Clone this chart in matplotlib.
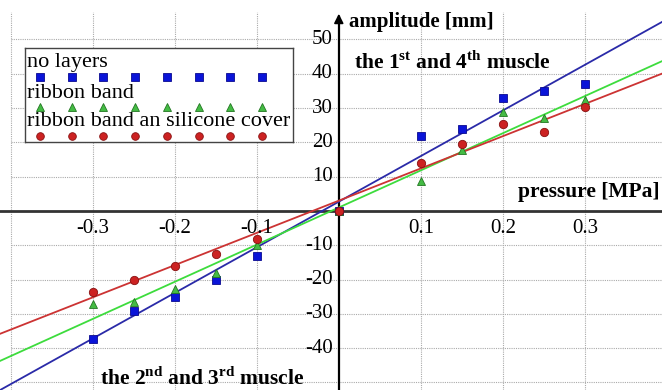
import matplotlib
matplotlib.use("Agg")
import matplotlib.pyplot as plt
import numpy as np

plt.rcParams['font.family'] = ['Liberation Serif', 'DejaVu Serif']
plt.rcParams['mathtext.fontset'] = 'custom'
plt.rcParams['mathtext.rm'] = 'Liberation Serif:bold'
plt.rcParams['mathtext.bf'] = 'Liberation Serif:bold'

# ---- data ----
pressure = [-0.3, -0.25, -0.2, -0.15, -0.1, 0.0, 0.1, 0.15, 0.2, 0.25, 0.3]
no_layers = [-37.2, -29.2, -25.0, -20.0, -13.1, 0.0, 21.9, 24.0, 32.8, 35.1, 36.9]
ribbon_band = [-27.1, -26.4, -22.8, -18.2, -9.9, 0.0, 8.7, 17.9, 28.9, 27.0, 32.4]
ribbon_silicone = [-23.6, -20.1, -16.1, -12.6, -8.2, 0.0, 14.0, 19.5, 25.4, 23.0, 30.4]

# fitted lines (slope, intercept)
fit_no_layers = (133.0, 2.7)
fit_ribbon = (108.3, 1.0)
fit_silicone = (94.0, 3.0)

series_labels = ["no layers", "ribbon band", "ribbon band an silicone cover"]
xticks = [-0.3, -0.2, -0.1, 0.1, 0.2, 0.3]
xtick_labels = ["-0.3", "-0.2", "-0.1", "0.1", "0.2", "0.3"]
yticks = [-40, -30, -20, -10, 10, 20, 30, 40, 50]
ytick_labels = ["-40", "-30", "-20", "-10", "10", "20", "30", "40", "50"]

W, H = 662, 390
fig = plt.figure(figsize=(W / 100, H / 100), dpi=100)
ax = fig.add_axes([0, 0, 1, 1])
xmin, xmax = -0.413, 0.394
ymin, ymax = -52.2, 61.5
ax.set_xlim(xmin, xmax)
ax.set_ylim(ymin, ymax)
for s in ax.spines.values():
    s.set_visible(False)
ax.set_xticks([])
ax.set_yticks([])

# grid (dotted gray), restricted to grid area
gx0, gy1 = -0.4, 58.0
for xv in [-0.4, -0.3, -0.2, -0.1, 0.1, 0.2, 0.3]:
    ax.plot([xv, xv], [ymin, gy1], color='#aaaaaa', lw=0.8, ls=(0, (1, 1)), zorder=1)
for yv in [-50, -40, -30, -20, -10, 10, 20, 30, 40, 50]:
    ax.plot([gx0, xmax], [yv, yv], color='#aaaaaa', lw=0.8, ls=(0, (1, 1)), zorder=1)

# axes lines
ax.plot([xmin, xmax], [0, 0], color='#333333', lw=2.0, zorder=2)
ax.plot([0, 0], [ymin, 56.5], color='black', lw=1.6, zorder=2)
ax.annotate('', xy=(0, 58.3), xytext=(0, 54.5),
            arrowprops=dict(arrowstyle='-|>', color='black', lw=1.2,
                            mutation_scale=14), zorder=3)

# tick labels
for xv, lab in zip(xticks, xtick_labels):
    ax.text(xv, -2.3, lab, ha='center', va='top', fontsize=15, zorder=4)
for yv, lab in zip(yticks, ytick_labels):
    ax.text(-0.0075, yv, lab, ha='right', va='center', fontsize=15, zorder=4)

# fitted lines
xs = np.array([xmin, xmax])
line_specs = [(fit_no_layers, '#2a2aa8'), (fit_ribbon, '#3ddc3d'), (fit_silicone, '#cc3333')]
for (m, b), c in line_specs:
    ax.plot(xs, m * xs + b, color=c, lw=1.3, zorder=3)

# markers
ax.plot(pressure, no_layers, ls='none', marker='s', ms=6, mfc='#0a14d8',
        mec='#0a0a90', mew=0.6, zorder=5)
ax.plot(pressure, ribbon_band, ls='none', marker='^', ms=6, mfc='#44bb44',
        mec='#227722', mew=0.6, zorder=5)
ax.plot(pressure, ribbon_silicone, ls='none', marker='o', ms=6, mfc='#cc2222',
        mec='#881111', mew=0.6, zorder=5)

# annotations
bold = dict(fontweight='bold', zorder=4)
ax.text(0.012, 55.0, 'amplitude [mm]', ha='left', va='center', fontsize=15, **bold)
ax.text(0.019, 43.2, r'the 1$^{\mathrm{st}}$ and 4$^{\mathrm{th}}$ muscle',
        ha='left', va='center', fontsize=15.5, **bold)
ax.text(0.3915, 5.4, 'pressure [MPa]', ha='right', va='center', fontsize=15.5, **bold)
ax.text(-0.291, -49.0, r'the 2$^{\mathrm{nd}}$ and 3$^{\mathrm{rd}}$ muscle',
        ha='left', va='center', fontsize=15.5, **bold)

# custom legend (labels above rows of markers)
def fx(px):
    return px / W

def fy(py):
    return 1 - py / H

leg_ax = fig.add_axes([fx(25), fy(142), fx(293) - fx(25), fy(48) - fy(142)])
leg_ax.set_xlim(25, 293)
leg_ax.set_ylim(142, 48)
leg_ax.set_xticks([])
leg_ax.set_yticks([])
leg_ax.set_facecolor('white')
for s in leg_ax.spines.values():
    s.set_color('#444444')
    s.set_linewidth(1.0)
mx = np.linspace(40, 262, 8)
rows = [
    (series_labels[0], 63, 77, dict(marker='s', mfc='#0a14d8', mec='#0a0a90')),
    (series_labels[1], 93, 107, dict(marker='^', mfc='#44bb44', mec='#227722')),
    (series_labels[2], 122, 136, dict(marker='o', mfc='#cc2222', mec='#881111')),
]
for lab, ty, my, mk in rows:
    leg_ax.text(27, ty, lab, ha='left', va='center', fontsize=16)
    leg_ax.plot(mx, [my] * len(mx), ls='none', ms=5.5, mew=0.6, **mk)

fig.savefig('out.png', dpi=100)
